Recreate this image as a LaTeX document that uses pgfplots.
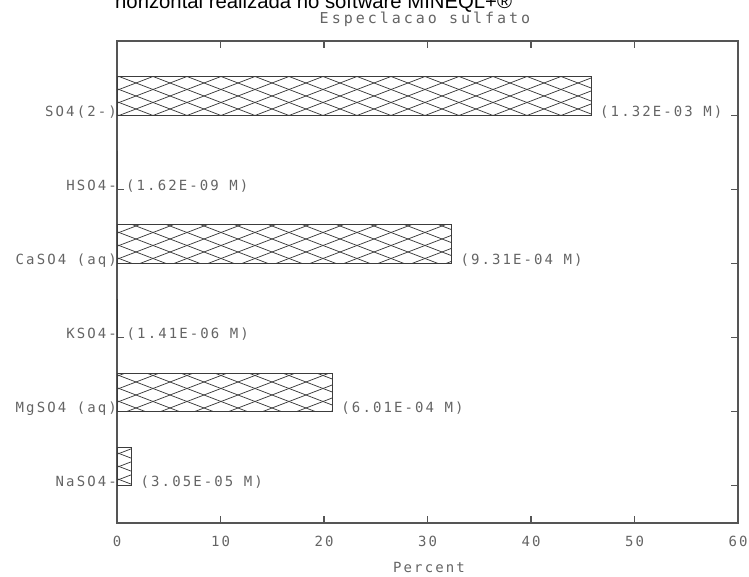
\documentclass[border=0pt]{standalone}
\usepackage{fontspec}
\usepackage{pgfplots}
\usepackage{pgfplotstable}
\pgfplotsset{compat=1.18}
\usetikzlibrary{patterns.meta}
\setmainfont{Liberation Sans}
\newfontfamily\chartfont{DejaVu Sans Mono}[LetterSpace=15]
\newfontfamily\titlefont{DejaVu Sans Mono}[LetterSpace=20]
\definecolor{txt}{RGB}{100,100,100}
\definecolor{axc}{RGB}{85,85,85}
\definecolor{barc}{RGB}{60,60,60}
\tikzdeclarepattern{
  name=diamondhatch,
  type=uncolored,
  bounding box={(-1pt,-1pt) and (35pt,14pt)},
  tile size={(34pt,13pt)},
  code={
    \draw[line width=0.75pt] (0pt,0pt) -- (34pt,13pt);
    \draw[line width=0.75pt] (0pt,13pt) -- (34pt,0pt);
  }
}
\pgfplotstableread[col sep=comma]{
x,y,label
1.4,0,(3.05E-05 M)
20.8,1,(6.01E-04 M)
0.05,2,(1.41E-06 M)
32.3,3,(9.31E-04 M)
0,4,(1.62E-09 M)
45.8,5,(1.32E-03 M)
}\labeltable
\pgfplotstableread{
x y
1.4 0.26
20.8 1.26
0.05 2.26
32.3 3.26
0 4.26
45.8 5.26
}\bartable
\begin{document}
\begin{tikzpicture}
\node[anchor=base west, inner sep=0pt, font=\fontsize{20.3}{22}\selectfont] at (115pt,568pt) {horizontal realizada no software MINEQL+®};
\node[font=\titlefont\fontsize{15}{18}\selectfont, text=txt, inner sep=0pt] at (425pt,558pt) {Especlacao sulfato};
\node[font=\chartfont\fontsize{14}{16}\selectfont, text=txt, inner sep=0pt] at (429pt,10pt) {Percent};
\begin{axis}[
  at={(117pt,54pt)}, anchor=south west,
  width=621pt, height=482pt, scale only axis,
  xmin=0, xmax=60, ymin=-0.5, ymax=6,
  xtick={0,10,...,60}, ytick={0,...,5},
  yticklabels={NaSO4-,MgSO4 (aq),KSO4-,CaSO4 (aq),HSO4-,SO4(2-)},
  tick align=inside, major tick length=7pt,
  xtick pos=both, ytick pos=both,
  axis line style={axc, line width=1.2pt},
  tick style={axc, line width=1.1pt},
  /pgf/number format/assume math mode=true,
  ticklabel style={font=\chartfont\fontsize{14}{16}\selectfont, text=txt},
  xticklabel style={anchor=north, inner sep=0pt, yshift=-13pt},
  yticklabel style={anchor=base east, inner sep=0pt, xshift=0pt, yshift=-1pt},
  clip=false,
]
\addplot[xbar, bar width=0.52, draw=barc, line width=0.9pt, pattern=diamondhatch, pattern color=barc]
  table[x=x, y=y] {\bartable};
\addplot[draw=none, mark=none, nodes near coords, point meta=explicit symbolic,
  nodes near coords style={anchor=base west, inner sep=0pt, xshift=9pt, yshift=-1pt,
    font=\chartfont\fontsize{14}{16}\selectfont, text=txt}]
  table[x=x, y=y, meta=label] {\labeltable};
\end{axis}
\pgfresetboundingbox
\useasboundingbox (0,0) rectangle (749pt,577pt);
\end{tikzpicture}
\end{document}
